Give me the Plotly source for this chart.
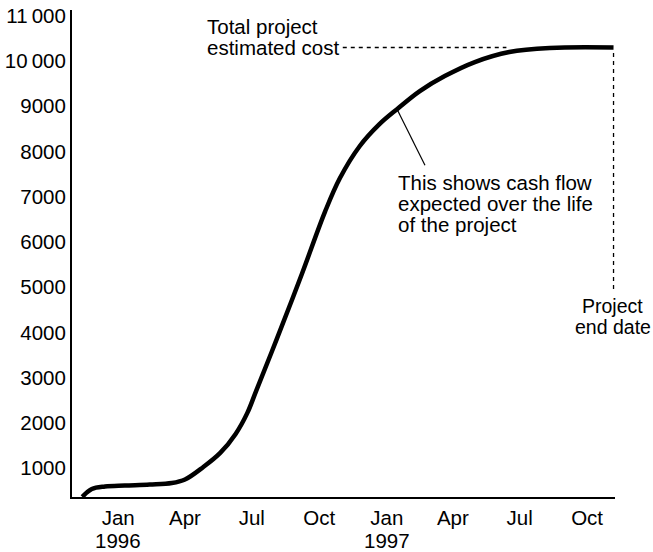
import plotly.graph_objects as go

# Cumulative expected spend over the life of the project
dates = ["1995-11-13", "1995-11-26", "1995-12-14", "1996-01-10", "1996-02-13",
         "1996-03-14", "1996-04-01", "1996-04-26", "1996-05-19", "1996-06-09",
         "1996-06-25", "1996-07-07", "1996-08-04", "1996-09-07", "1996-10-09",
         "1996-10-29", "1996-11-25", "1996-12-22", "1997-01-15", "1997-02-15",
         "1997-03-21", "1997-05-01", "1997-06-17", "1997-08-11", "1997-11-06"]
cumulative = [360, 534, 590, 612, 634,
              667, 745, 1022, 1333, 1754,
              2219, 2707, 3849, 5279, 6676,
              7407, 8116, 8604, 8937, 9336,
              9668, 9979, 10201, 10290, 10300]

total_cost = 10300
end_date = "1997-11-06"

tick_dates = ["1996-01-01", "1996-04-01", "1996-07-01", "1996-10-01",
              "1997-01-01", "1997-04-01", "1997-07-01", "1997-10-01"]
tick_text = ["Jan", "Apr", "Jul", "Oct", "Jan", "Apr", "Jul", "Oct"]
year_dates = ["1996-01-01", "1997-01-01"]
year_text = ["1996", "1997"]

y_ticks = [1000, 2000, 3000, 4000, 5000, 6000, 7000, 8000, 9000, 10000, 11000]
y_text = ["1000", "2000", "3000", "4000", "5000", "6000", "7000", "8000", "9000",
          "10\u2009000", "11\u2009000"]

FONT = "Liberation Sans, Arial, Helvetica, sans-serif"
FS = 20.5

fig = go.Figure()

# Horizontal guide to the total estimated cost
fig.add_trace(go.Scatter(
    x=["1996-11-02", "1997-06-13"], y=[total_cost, total_cost],
    mode="lines", line=dict(color="black", width=1.3, dash="4px,4px"),
    hoverinfo="skip", showlegend=False))

# Vertical guide at the project end date
fig.add_trace(go.Scatter(
    x=[end_date, end_date], y=[10180, 4950],
    mode="lines", line=dict(color="black", width=1.3, dash="4px,4px"),
    hoverinfo="skip", showlegend=False))

# S-curve of cumulative cash flow
fig.add_trace(go.Scatter(
    x=dates, y=cumulative, mode="lines",
    line=dict(color="black", width=4.5, shape="spline", smoothing=1.0),
    showlegend=False))

# Pointer from the curve to its caption
fig.add_trace(go.Scatter(
    x=["1997-01-15", "1997-02-22"], y=[8937, 7695],
    mode="lines", line=dict(color="black", width=1.2),
    hoverinfo="skip", showlegend=False))

annotations = []

def label(x, y, text, xanchor="left", xshift=0, size=FS):
    annotations.append(dict(x=x, y=y, xref="x", yref="y", text=text,
                            showarrow=False, xanchor=xanchor, yanchor="middle",
                            xshift=xshift,
                            font=dict(family=FONT, size=size, color="black")))

label("1996-04-28", 10766, "Total project")
label("1996-04-28", 10300, "estimated cost")
label("1997-01-13", 7318, "This shows cash flow")
label("1997-01-13", 6853, "expected over the life")
label("1997-01-13", 6387, "of the project")
label(end_date, 4592, "Project", xanchor="center", xshift=-1, size=19.5)
label(end_date, 4126, "end date", xanchor="center", xshift=-1, size=19.5)

# Year labels under the January ticks
for d, t in zip(year_dates, year_text):
    annotations.append(dict(x=d, y=-0.0883, xref="x", yref="paper", text=t,
                            showarrow=False, xanchor="center", yanchor="middle",
                            font=dict(family=FONT, size=FS, color="black")))

fig.update_layout(
    width=653, height=552,
    margin=dict(l=72, r=38, t=10, b=55),
    paper_bgcolor="white", plot_bgcolor="white",
    font=dict(family=FONT, size=FS, color="black"),
    annotations=annotations,
    xaxis=dict(
        type="date", range=["1995-10-30", "1997-11-08"],
        tickvals=tick_dates, ticktext=tick_text,
        showgrid=False, zeroline=False, automargin=False,
        showline=True, linecolor="black", linewidth=2,
        ticks="", ticklabelstandoff=1,
        tickfont=dict(family=FONT, size=FS, color="black"),
    ),
    yaxis=dict(
        range=[358, 11130],
        tickvals=y_ticks, ticktext=y_text,
        showgrid=False, zeroline=False, automargin=False,
        showline=True, linecolor="black", linewidth=2,
        ticks="", ticklabelstandoff=0,
        tickfont=dict(family=FONT, size=FS, color="black"),
    ),
)

fig.write_html("out.html")
